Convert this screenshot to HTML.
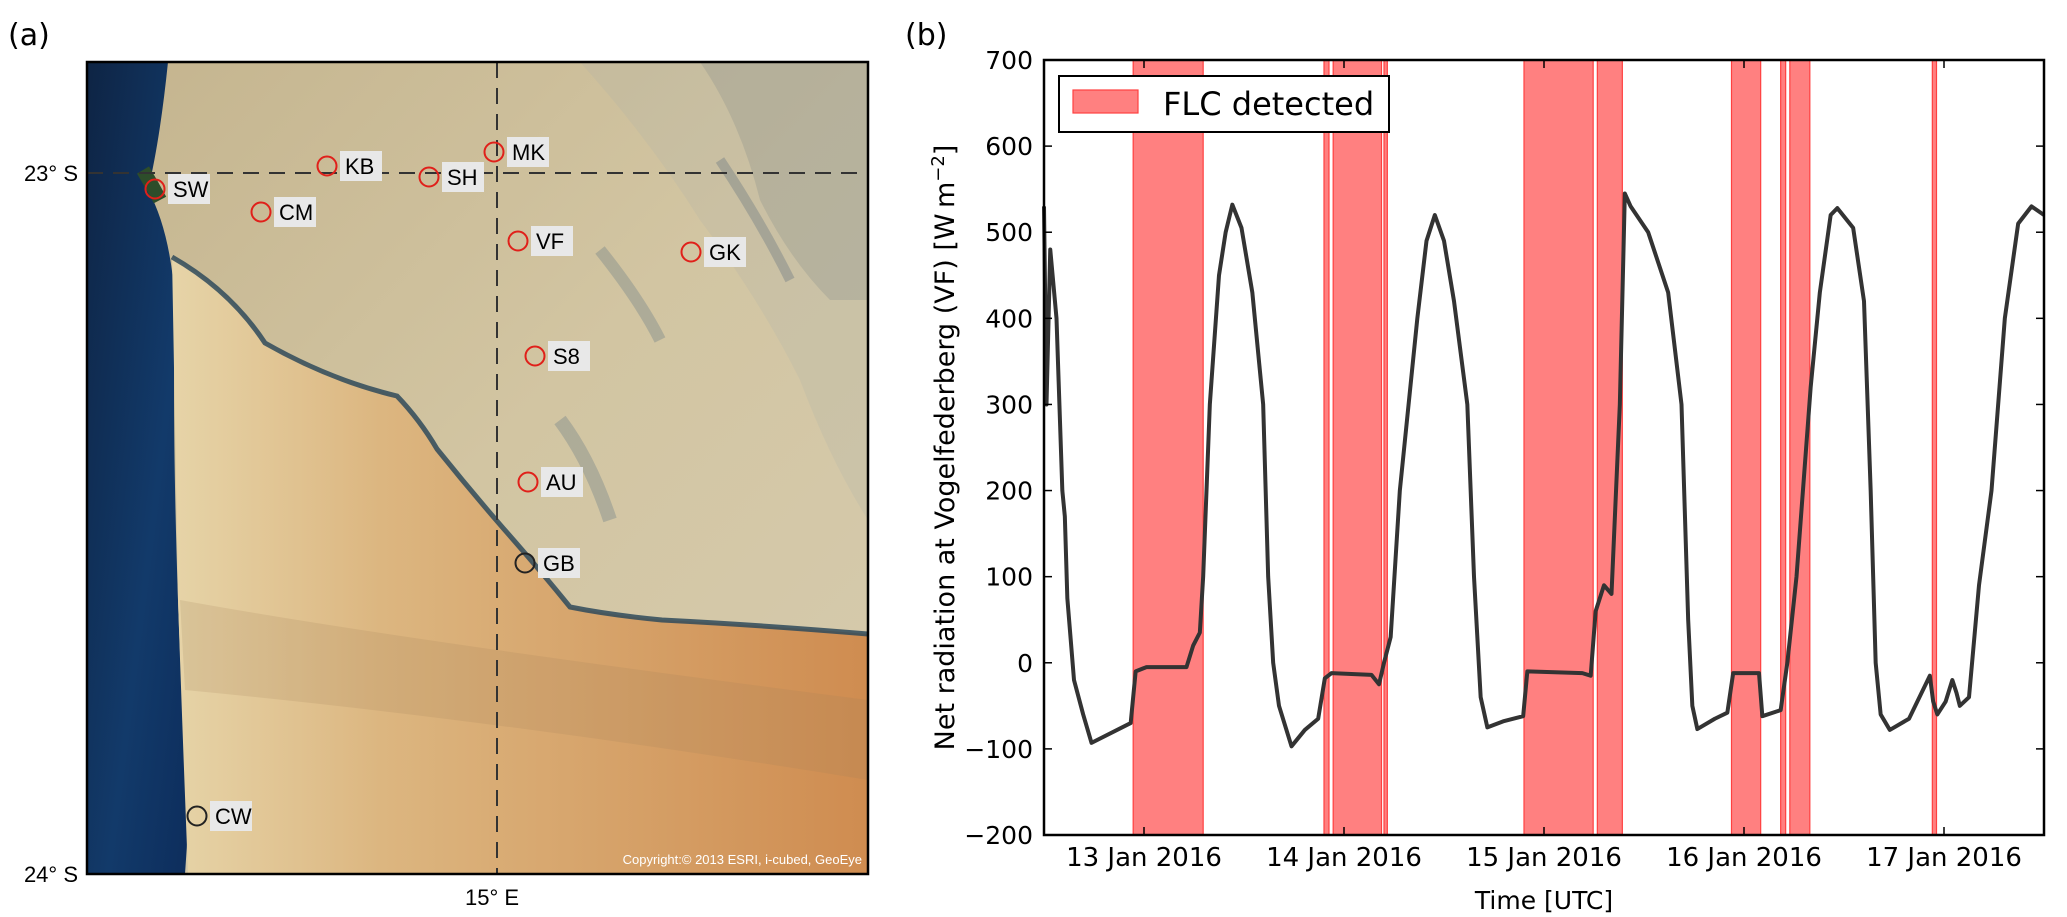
<!DOCTYPE html>
<html><head><meta charset="utf-8">
<style>
body{margin:0;background:#fff;}
svg{display:block;font-family:"DejaVu Sans","Liberation Sans",sans-serif;}
</style></head>
<body>
<svg id="fig" width="2067" height="917" viewBox="0 0 2067 917">
<defs>
  <linearGradient id="ocean" x1="0" y1="0" x2="1" y2="1">
    <stop offset="0" stop-color="#0e2444"/><stop offset="0.6" stop-color="#123a6a"/><stop offset="1" stop-color="#0d2d5c"/>
  </linearGradient>
  <linearGradient id="gravel" x1="0" y1="0" x2="1" y2="1">
    <stop offset="0" stop-color="#c4b48e"/><stop offset="0.5" stop-color="#d2c5a2"/><stop offset="1" stop-color="#d6cbae"/>
  </linearGradient>
  <linearGradient id="dunes" x1="0" y1="0" x2="1" y2="0">
    <stop offset="0" stop-color="#e6d4a8"/><stop offset="0.3" stop-color="#dcb680"/><stop offset="1" stop-color="#cf8c50"/>
  </linearGradient>
  <clipPath id="mapclip"><rect x="87" y="62" width="781" height="812"/></clipPath>
</defs>
<text x="8" y="45" font-size="30">(a)</text>
<g id="map" clip-path="url(#mapclip)">
  <rect x="87" y="62" width="781" height="812" fill="url(#gravel)"/>
  <path d="M580,62 Q650,140 700,220 Q760,300 800,380 Q830,460 868,520 L868,62 Z" fill="#a9aea8" opacity="0.2"/>
  <path d="M700,62 Q740,120 760,200 Q790,260 830,300 L868,300 L868,62 Z" fill="#5d6f7c" opacity="0.18"/>
  <path d="M600,250 Q640,300 660,340" stroke="#5a6f80" stroke-width="12" opacity="0.3" fill="none"/>
  <path d="M560,420 Q590,460 610,520" stroke="#5a6f80" stroke-width="14" opacity="0.3" fill="none"/>
  <path d="M720,160 Q760,220 790,280" stroke="#4e6577" stroke-width="10" opacity="0.3" fill="none"/>
  <path d="M87,62 L168,62 Q160,140 148,190 Q170,230 175,300 Q172,420 178,600 Q182,720 190,800 L185,874 L87,874 Z" fill="url(#ocean)"/>
  <path d="M172,257 Q230,290 265,343 Q330,380 397,396 Q420,420 437,449 Q470,490 503,528 Q540,570 570,607 Q610,615 662,620 Q760,625 868,634 L868,874 L188,874 Q182,720 178,600 Q175,420 172,257 Z" fill="url(#dunes)"/>
  <path d="M172,257 Q230,290 265,343 Q330,380 397,396 Q420,420 437,449 Q470,490 503,528 Q540,570 570,607 Q610,615 662,620 Q760,625 868,634" fill="none" stroke="#2f4a5a" stroke-width="5" opacity="0.85"/>
  <path d="M180,600 Q400,640 868,700 L868,780 Q500,720 185,690 Z" fill="#a07f5a" opacity="0.18"/>
  <path d="M143,170 Q152,185 160,200" stroke="#2d4d2a" stroke-width="14" fill="none"/>
  <line x1="87" y1="173" x2="868" y2="173" stroke="#333" stroke-width="2" stroke-dasharray="16,10"/>
  <line x1="497" y1="62" x2="497" y2="874" stroke="#333" stroke-width="2" stroke-dasharray="16,10"/>
  <text x="862" y="864" font-size="13" fill="#fff" text-anchor="end" font-family="Liberation Sans, sans-serif">Copyright:© 2013 ESRI, i-cubed, GeoEye</text>
</g>
<rect x="87" y="62" width="781" height="812" fill="none" stroke="#000" stroke-width="2.5"/>
<text x="78" y="181" font-size="22" text-anchor="end" font-family="Liberation Sans, sans-serif">23° S</text>
<text x="78" y="882" font-size="22" text-anchor="end" font-family="Liberation Sans, sans-serif">24° S</text>
<text x="492" y="905" font-size="22" text-anchor="middle" font-family="Liberation Sans, sans-serif">15° E</text>
<g id="stations" font-family="Liberation Sans, sans-serif" font-size="22"></g>

<text x="905" y="45" font-size="30">(b)</text>
<g id="chart"></g>
</svg>
<script>
// ---- station data ----
const stationNames = ["SW","KB","SH","MK","CM","VF","GK","S8","AU","GB","CW"];
const stationX = [155,327,429,494,261,518,691,535,528,525,197];
const stationY = [189,166,177,152,212,241,252,356,482,563,816];
const stationRed = [1,1,1,1,1,1,1,1,1,0,0];
const NS="http://www.w3.org/2000/svg";
const sg=document.getElementById('stations');
function mk(tag,attrs,parent){const e=document.createElementNS(NS,tag);for(const k in attrs)e.setAttribute(k,attrs[k]);parent.appendChild(e);return e;}
stationNames.forEach((n,i)=>{
  const g=mk('g',{},sg);
  
  
  mk('circle',{cx:stationX[i],cy:stationY[i],r:9.5,fill:'none',stroke:stationRed[i]?'#e0201a':'#222','stroke-width':2},g);
  const w=n.length*15+12;
  mk('rect',{x:stationX[i]+13,y:stationY[i]-15,width:w,height:30,fill:'#e8e8e8'},g);
  const t=mk('text',{x:stationX[i]+18,y:stationY[i]+8},g);t.textContent=n;
});

// ---- chart data ----
const yTicks=[-200,-100,0,100,200,300,400,500,600,700];
const dayTicks=[0,24,48,72,96];
const dayLabels=["13 Jan 2016","14 Jan 2016","15 Jan 2016","16 Jan 2016","17 Jan 2016"];
// FLC spans, hours since 13 Jan 2016 00:00 UTC
const flcStart=[-1.3,21.6,22.7,28.8,45.6,54.4,70.5,76.4,77.5,94.6];
const flcEnd=[7.1,22.2,28.5,29.2,53.9,57.4,74.0,77.0,79.9,95.1];
// net radiation series
const tHours=[-12.0,-11.7,-11.25,-10.5,-9.8,-9.5,-9.2,-8.4,-7.3,-6.3,-1.6,-1.0,0.3,5.1,5.9,6.7,7.1,7.9,9.0,9.8,10.6,11.7,13.0,14.3,14.9,15.5,16.2,17.7,19.3,20.9,21.7,22.5,27.3,28.2,28.8,29.6,30.7,32.8,33.9,34.9,36.0,37.2,38.8,39.6,40.4,41.2,43.1,45.5,46.0,52.6,53.6,54.2,55.2,56.1,57.1,57.7,58.4,60.5,62.9,64.5,65.3,65.8,66.4,68.5,70.0,70.7,73.8,74.2,76.4,77.2,78.3,80.0,81.1,82.4,83.2,85.1,86.4,87.2,87.8,88.4,89.5,91.8,94.3,94.7,95.2,96.2,97.0,97.5,97.9,99.0,100.2,101.7,103.3,104.9,106.5,108.0];
const netRad=[530,300,480,400,200,170,75,-20,-60,-93,-70,-10,-5,-5,20,35,100,300,450,500,532,505,430,300,100,0,-50,-97,-78,-65,-18,-12,-14,-25,0,30,200,400,490,520,490,420,300,100,-40,-75,-68,-62,-10,-12,-15,60,90,80,300,545,530,500,430,300,50,-50,-77,-65,-58,-12,-12,-62,-55,0,100,320,430,520,528,505,420,200,0,-60,-78,-65,-15,-45,-60,-45,-20,-35,-50,-40,90,200,400,510,530,520];

const L=1044,R=2044,T=60,B=835,x0=-12,x1=108,y0=-200,y1=700;
const X=h=>L+(h-x0)/(x1-x0)*(R-L);
const Y=v=>B-(v-y0)/(y1-y0)*(B-T);
const c=document.getElementById('chart');
flcStart.forEach((s,i)=>{
  const r=mk('rect',{x:X(s),y:T,width:X(flcEnd[i])-X(s),height:B-T,fill:'#ff8080',stroke:'#ff4040','stroke-width':1.2},c);
  
  
});
const p=mk('polyline',{points:tHours.map((h,i)=>X(h)+','+Y(netRad[i])).join(' '),fill:'none',stroke:'#333','stroke-width':4,'stroke-linejoin':'round'},c);


const fr=mk('rect',{x:L,y:T,width:R-L,height:B-T,fill:'none',stroke:'#000','stroke-width':2.5},c);


yTicks.forEach(v=>{
  mk('line',{x1:L,x2:L+8,y1:Y(v),y2:Y(v),stroke:'#000','stroke-width':1.5},c);
  mk('line',{x1:R-8,x2:R,y1:Y(v),y2:Y(v),stroke:'#000','stroke-width':1.5},c);
  const t=mk('text',{x:L-11,y:Y(v)+9,'font-size':25,'text-anchor':'end'},c);
  t.textContent=v<0?'\u2212'+(-v):String(v);
  
  
});
dayTicks.forEach((h,i)=>{
  mk('line',{x1:X(h),x2:X(h),y1:B,y2:B-8,stroke:'#000','stroke-width':1.5},c);
  mk('line',{x1:X(h),x2:X(h),y1:T,y2:T+8,stroke:'#000','stroke-width':1.5},c);
  const t=mk('text',{x:X(h),y:B+31,'font-size':26,'text-anchor':'middle'},c);
  t.textContent=dayLabels[i];
  
  
});
const xl=mk('text',{x:(L+R)/2,y:B+74,'font-size':25,'text-anchor':'middle'},c);
xl.textContent='Time [UTC]';


const yl=mk('text',{x:0,y:0,'font-size':27,'text-anchor':'middle',transform:'translate(954,'+((T+B)/2)+') rotate(-90)'},c);
yl.innerHTML='Net radiation at Vogelfederberg (VF) [W\u2009m<tspan dy="-10" font-size="18">\u22122</tspan><tspan dy="10">]</tspan>';


const lg=mk('g',{},c);


mk('rect',{x:1059,y:76,width:330,height:56,fill:'#fff',stroke:'#000','stroke-width':2},lg);
mk('rect',{x:1073,y:90,width:65,height:23,fill:'#ff8080',stroke:'#ff4040','stroke-width':1.2},lg);
const lt=mk('text',{x:1163,y:115,'font-size':32},lg);
lt.textContent='FLC detected';


</script>
</body></html>
